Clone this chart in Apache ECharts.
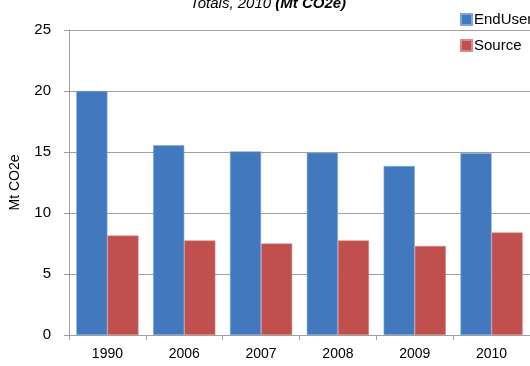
<!DOCTYPE html>
<html>
<head>
<meta charset="utf-8">
<script src="https://cdn.jsdelivr.net/npm/echarts@6/dist/echarts.min.js"></script>
<style>html,body{margin:0;padding:0;background:#fff}#c{width:530px;height:366px}</style>
</head>
<body>
<div id="c"></div>
<script>
var categories = ['1990', '2006', '2007', '2008', '2009', '2010'];
var endUser = [20.0, 15.55, 15.05, 14.95, 13.85, 14.9];
var source = [8.15, 7.75, 7.5, 7.75, 7.3, 8.4];
var yTicks = [0, 5, 10, 15, 20, 25];

var chart = echarts.init(document.getElementById('c'));
var font = 'Liberation Sans, Arial, sans-serif';
chart.setOption({
  animation: false,
  textStyle: { fontFamily: font },
  title: {
    text: '{i|Totals, 2010 }{b|(Mt CO2e)}',
    left: 263, top: -9, textAlign: 'center',
    textStyle: {
      fontWeight: 'normal',
      rich: {
        i: { fontStyle: 'italic', fontWeight: 'normal', fontSize: 15, color: '#000', fontFamily: font },
        b: { fontStyle: 'italic', fontWeight: 'bold', fontSize: 15, color: '#000', fontFamily: font }
      }
    }
  },
  legend: {
    orient: 'vertical', left: 455, top: 7, itemGap: 11,
    itemWidth: 11, itemHeight: 11, icon: 'rect',
    textStyle: { fontSize: 15, color: '#000', fontFamily: font, padding: [0, 0, 0, -3] },
    data: ['EndUser', 'Source']
  },
  grid: { left: 67, right: 0, top: 30, bottom: 31, containLabel: false },
  xAxis: {
    type: 'category', data: categories,
    axisLine: { lineStyle: { color: '#a0a0a0', width: 1 } },
    axisTick: { show: true, alignWithLabel: false, length: 5, lineStyle: { color: '#a0a0a0' } },
    axisLabel: { color: '#000', fontSize: 14, margin: 12, fontFamily: font }
  },
  yAxis: {
    type: 'value', min: yTicks[0], max: yTicks[yTicks.length - 1], interval: 5,
    name: 'Mt CO2e', nameLocation: 'middle', nameGap: 47, nameRotate: 90,
    nameTextStyle: { color: '#000', fontSize: 14, fontFamily: font },
    axisLine: { show: true, lineStyle: { color: '#a0a0a0', width: 1 } },
    axisTick: { show: true, length: 5, lineStyle: { color: '#a0a0a0' } },
    axisLabel: { color: '#000', fontSize: 15, margin: 18, fontFamily: font },
    splitLine: { lineStyle: { color: '#a0a0a0', width: 1 } }
  },
  series: [
    { name: 'EndUser', type: 'bar', data: endUser, barGap: '0%', barCategoryGap: '19%',
      itemStyle: { color: '#4178BE', borderColor: '#7FA6D6', borderWidth: 0.6 } },
    { name: 'Source', type: 'bar', data: source, barGap: '0%', barCategoryGap: '19%',
      itemStyle: { color: '#C0504D', borderColor: '#D98A88', borderWidth: 0.6 } }
  ]
});
</script>
</body>
</html>
